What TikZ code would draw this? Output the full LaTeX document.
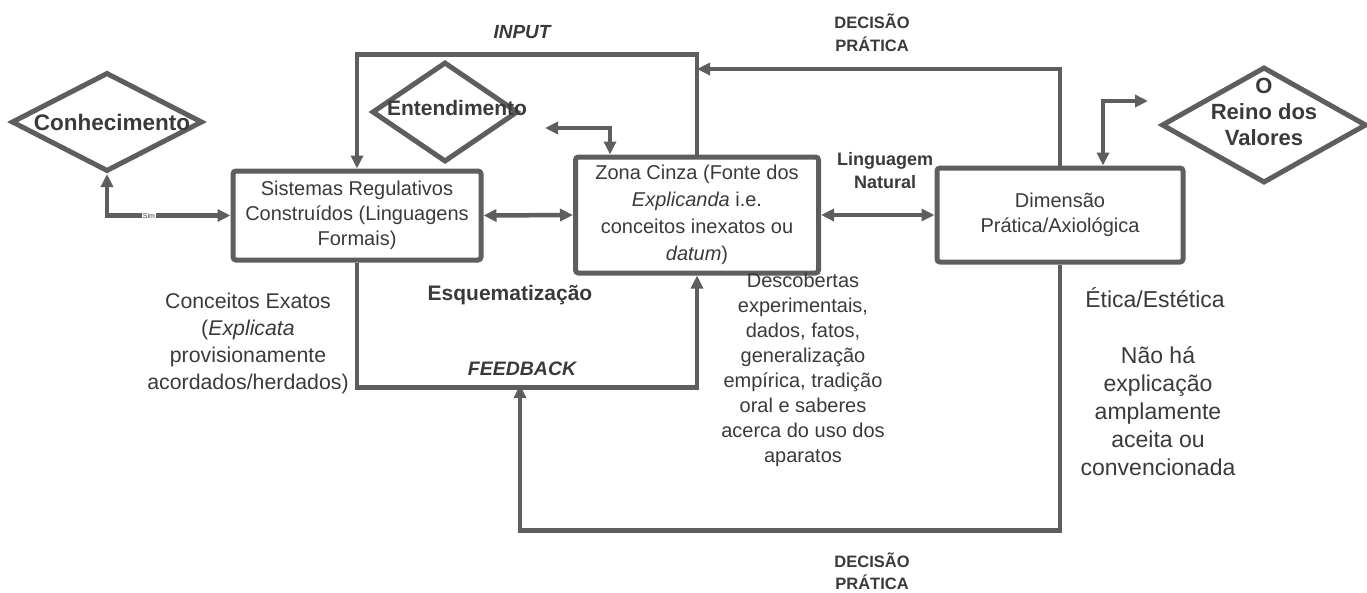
\documentclass[tikz,border=0pt]{standalone}
\usepackage{fontspec}
\setmainfont{Liberation Sans}
\usetikzlibrary{shapes,arrows.meta,positioning,fit}
\definecolor{linegray}{HTML}{5E5E5E}
\definecolor{textgray}{HTML}{3A3A3A}

\begin{document}
\begin{tikzpicture}[x=1pt, y=-1pt]

% Define styles
\tikzstyle{box} = [rectangle, draw=linegray, line width=5pt, rounded corners=3pt, align=center, inner sep=0pt, text=textgray, font=\fontsize{20}{25}\selectfont]
\tikzstyle{decision} = [diamond, draw=linegray, line width=5pt, inner sep=0pt]
\tikzstyle{txt} = [align=center, inner sep=0pt, text=textgray, font=\fontsize{20}{25}\selectfont]
\tikzstyle{boldtxt} = [txt, font=\fontsize{21}{25}\selectfont\bfseries]
\tikzstyle{arrow} = [draw=linegray, line width=4.5pt, -{Triangle[length=13pt,width=12pt]}]
\tikzstyle{dblarrow} = [draw=linegray, line width=4.5pt, {Triangle[length=13pt,width=12pt]}-{Triangle[length=13pt,width=12pt]}]

\useasboundingbox (0,0) rectangle (1367,592);

% Nodes
\node [box, minimum width=248pt, minimum height=89pt] (sistemas) at (357,215.5) {Sistemas Regulativos\\Construídos (Linguagens\\Formais)};
\node [box, minimum width=243pt, minimum height=116pt, font=\fontsize{20}{27}\selectfont] (zona) at (697,215) {Zona Cinza (Fonte dos\\\textit{Explicanda} i.e.\\conceitos inexatos ou\\\textit{datum})};
\node [box, minimum width=246pt, minimum height=94pt] (dimensao) at (1060,215) {Dimensão\\Prática/Axiológica};

% Diamonds
\node [decision, minimum width=191pt, minimum height=99pt, label={[boldtxt, xshift=5pt, font=\fontsize{22.5}{25}\selectfont\bfseries]center:Conhecimento}] (conhecimento) at (107,122) {};
\node [decision, minimum width=146pt, minimum height=100pt, label={[boldtxt, xshift=12pt, yshift=4pt]center:Entendimento}] (entendimento) at (445,112) {};
\node [decision, minimum width=205pt, minimum height=116pt, label={[boldtxt, yshift=13pt, font=\fontsize{22}{26}\selectfont\bfseries]center:O\\Reino dos\\Valores}] (reino) at (1264,125) {};

% Labels
\node [boldtxt, font=\fontsize{19}{25}\selectfont\bfseries\itshape] (input) at (522,32) {INPUT};
\node [boldtxt, font=\fontsize{16.5}{23}\selectfont\bfseries] (decisaoTop) at (872,33) {DECISÃO\\PRÁTICA};
\node [boldtxt, font=\fontsize{18}{23}\selectfont\bfseries] (linguagem) at (885,171) {Linguagem\\Natural};
\node [boldtxt] (esquema) at (510,295) {Esquematização};
\node [boldtxt, font=\fontsize{19.5}{25}\selectfont\bfseries\itshape] (feedback) at (522,369) {FEEDBACK};
\node [txt, font=\fontsize{21.3}{27}\selectfont] (exatos) at (248,343) {Conceitos Exatos\\(\textit{Explicata}\\provisionamente\\acordados/herdados)};
\node [txt] (descobertas) at (803,369.5) {Descobertas\\experimentais,\\dados, fatos,\\generalização\\empírica, tradição\\oral e saberes\\acerca do uso dos\\aparatos};
\node [txt, font=\fontsize{23}{28}\selectfont] (etica) at (1155,298) {Ética/Estética};
\node [txt, font=\fontsize{23}{28}\selectfont] (naoha) at (1158,411) {Não há\\explicação\\amplamente\\aceita ou\\convencionada};
\node [boldtxt, font=\fontsize{16.5}{22}\selectfont\bfseries] (decisaoBot) at (872,571) {DECISÃO\\PRÁTICA};

% Free ends
\coordinate (inputIn) at (697,69);
\coordinate (entTip) at (545,128);
\coordinate (reinoTip) at (1148,101);
\coordinate (feedbackIn) at (520,385);

% Arrows
\draw [dblarrow] (conhecimento.south) |- node[pos=0.67, fill=white, inner sep=0.5pt, text=textgray, font=\fontsize{7}{8}\selectfont] (sim) {Sim} (sistemas.west);
\draw [dblarrow] (sistemas.east) -- (zona.west);
\draw [dblarrow] (zona.east) -- (dimensao.west);
\draw [dblarrow] (entTip) -| ([xshift=-87pt]zona.north);
\draw [dblarrow] ([xshift=43pt]dimensao.north) |- (reinoTip);

\draw [arrow] (zona.north) -- ++(0,-100) -| (sistemas.north);
\draw [arrow] (dimensao.north) |- (inputIn);
\draw [arrow] (sistemas.south) -- ++(0,125) -| (zona.south);
\draw [arrow] (dimensao.south) -- ++(0,266) -| (feedbackIn);

\end{tikzpicture}
\end{document}
